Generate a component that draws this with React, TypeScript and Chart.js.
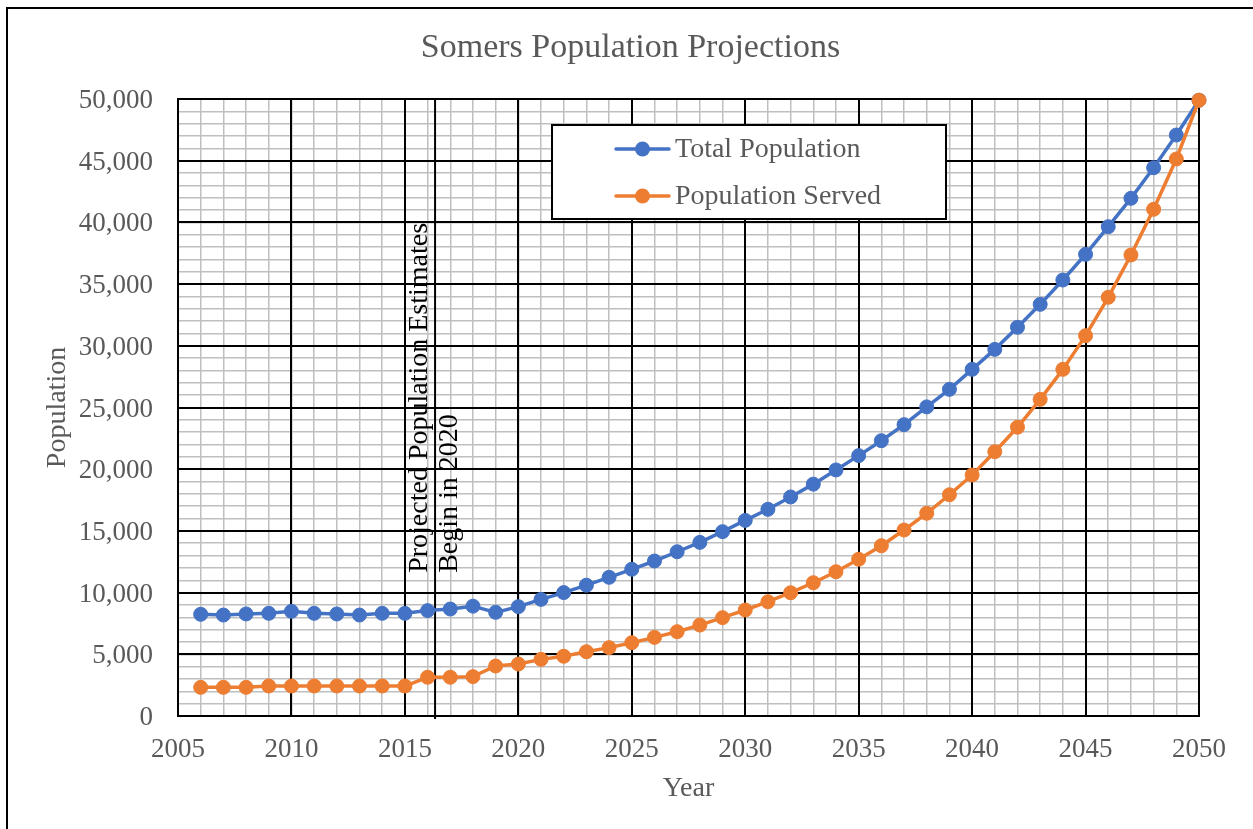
import React, { useEffect, useRef } from 'react';
import { Chart, registerables } from 'chart.js';

Chart.register(...registerables);

// ---- data ----
const YEARS = [
  2006, 2007, 2008, 2009, 2010, 2011, 2012, 2013, 2014, 2015,
  2016, 2017, 2018, 2019, 2020, 2021, 2022, 2023, 2024, 2025,
  2026, 2027, 2028, 2029, 2030, 2031, 2032, 2033, 2034, 2035,
  2036, 2037, 2038, 2039, 2040, 2041, 2042, 2043, 2044, 2045,
  2046, 2047, 2048, 2049, 2050,
];

const TOTAL_POPULATION = [
  8240, 8180, 8270, 8320, 8480, 8320, 8270, 8180, 8320, 8320,
  8540, 8670, 8900, 8400, 8860, 9450, 10000, 10600, 11240, 11890,
  12560, 13310, 14070, 14940, 15850, 16750, 17750, 18790, 19940, 21100,
  22310, 23610, 25050, 26470, 28090, 29710, 31500, 33360, 35330, 37410,
  39650, 41950, 44430, 47080, 49900,
];

const POPULATION_SERVED = [
  2320, 2320, 2320, 2430, 2430, 2430, 2430, 2430, 2430, 2430,
  3140, 3140, 3190, 4050, 4210, 4590, 4840, 5210, 5540, 5940,
  6370, 6830, 7370, 7970, 8590, 9260, 9990, 10800, 11690, 12700,
  13800, 15070, 16430, 17930, 19530, 21420, 23400, 25660, 28090, 30820,
  33930, 37360, 41060, 45140, 49900,
];

const SERIES_LABELS = ['Total Population', 'Population Served'];
const SERIES_COLORS = ['#4472C4', '#ED7D31'];

const X_MAJOR_TICKS = [2005, 2010, 2015, 2020, 2025, 2030, 2035, 2040, 2045, 2050];
const Y_MAJOR_TICKS = [0, 5000, 10000, 15000, 20000, 25000, 30000, 35000, 40000, 45000, 50000];
const Y_TICK_LABELS = ['0', '5,000', '10,000', '15,000', '20,000', '25,000', '30,000', '35,000', '40,000', '45,000', '50,000'];

const X_RANGE = [2005, 2050];
const Y_RANGE = [0, 50000];
const X_MINOR_STEP = 1;
const Y_MINOR_STEP = 1000;

// vertical marker where projections start, with its two-line note
const PROJECTION_MARK = 2016.33;
const NOTE_START_VALUE = 11600;
const NOTE_LINES = ['Projected Population Estimates', 'Begin in 2020'];

// ---- style ----
const FONT = '"Liberation Serif", "Times New Roman", serif';
const TEXT_GRAY = '#595959';
const MINOR_GRID = '#bfbfbf';

Chart.defaults.font.family = FONT;

const minorTicks = (min: number, max: number, step: number) => {
  const out: { value: number }[] = [];
  for (let v = min; v <= max + 1e-9; v += step) out.push({ value: v });
  return out;
};

const projectionMarker = {
  id: 'projectionMarker',
  beforeDatasetsDraw(chart: any) {
    const { ctx, chartArea, scales } = chart;
    const x = scales.x.getPixelForValue(PROJECTION_MARK);
    ctx.save();
    ctx.strokeStyle = '#000';
    ctx.lineWidth = 2;
    ctx.beginPath();
    ctx.moveTo(x, chartArea.top);
    ctx.lineTo(x, chartArea.bottom + 3);
    ctx.stroke();

    ctx.translate(x, scales.y.getPixelForValue(NOTE_START_VALUE));
    ctx.rotate(-Math.PI / 2);
    ctx.font = `28px ${FONT}`;
    ctx.fillStyle = '#000';
    ctx.textAlign = 'left';
    ctx.textBaseline = 'alphabetic';
    ctx.fillText(NOTE_LINES[0], 0, -8);
    ctx.fillText(NOTE_LINES[1], 0, 22);
    ctx.restore();
  },
};

const boxedLegend = {
  id: 'boxedLegend',
  afterDatasetsDraw(chart: any) {
    const { ctx, chartArea } = chart;
    const left = chartArea.left + 374;
    const top = chartArea.top + 26;
    const w = 394;
    const h = 94;
    ctx.save();
    ctx.fillStyle = '#fff';
    ctx.fillRect(left, top, w, h);
    ctx.strokeStyle = '#000';
    ctx.lineWidth = 2;
    ctx.strokeRect(left, top, w, h);
    SERIES_LABELS.forEach((label, i) => {
      const cy = top + 24 + i * 47;
      const color = SERIES_COLORS[i];
      ctx.strokeStyle = color;
      ctx.lineWidth = 3.5;
      ctx.lineCap = 'round';
      ctx.beginPath();
      ctx.moveTo(left + 64, cy);
      ctx.lineTo(left + 117, cy);
      ctx.stroke();
      ctx.fillStyle = color;
      ctx.beginPath();
      ctx.arc(left + 90.5, cy, 7.5, 0, Math.PI * 2);
      ctx.fill();
      ctx.fillStyle = TEXT_GRAY;
      ctx.font = `28px ${FONT}`;
      ctx.textAlign = 'left';
      ctx.textBaseline = 'middle';
      ctx.fillText(label, left + 123, cy + 1);
    });
    ctx.restore();
  },
};

const seriesData = [TOTAL_POPULATION, POPULATION_SERVED];

export default function App() {
  const canvasRef = useRef<HTMLCanvasElement>(null);

  useEffect(() => {
    const canvas = canvasRef.current;
    if (!canvas) return;
    const chart = new Chart(canvas, {
      type: 'line',
      data: {
        datasets: seriesData.map((values, i) => ({
          label: SERIES_LABELS[i],
          data: YEARS.map((year, j) => ({ x: year, y: values[j] })),
          borderColor: SERIES_COLORS[i],
          backgroundColor: SERIES_COLORS[i],
          pointBackgroundColor: SERIES_COLORS[i],
          pointBorderColor: SERIES_COLORS[i],
          borderWidth: 3.5,
          pointRadius: 7,
          pointBorderWidth: 1,
          tension: 0,
          clip: false as any,
          order: i === 0 ? 1 : 0,
          xAxisID: 'x',
          yAxisID: 'y',
        })),
      },
      plugins: [projectionMarker, boxedLegend],
      options: {
        responsive: false,
        animation: false,
        layout: { padding: 0 },
        plugins: {
          legend: { display: false },
          tooltip: { enabled: false },
          title: {
            display: true,
            text: 'Somers Population Projections',
            color: TEXT_GRAY,
            font: { family: FONT, size: 34, weight: 'normal' },
            padding: { top: 19, bottom: 30.2 },
          },
        },
        scales: {
          x: {
            type: 'linear',
            position: 'bottom',
            min: X_RANGE[0],
            max: X_RANGE[1],
            afterBuildTicks: (s: any) => {
              s.ticks = X_MAJOR_TICKS.map((value) => ({ value }));
            },
            ticks: {
              color: TEXT_GRAY,
              font: { size: 27 },
              padding: 18,
              maxRotation: 0,
              autoSkip: false,
              callback: (v: any) => String(v),
            },
            grid: { color: '#000', lineWidth: 2, drawTicks: false },
            border: { color: '#000', width: 2 },
            title: {
              display: true,
              text: 'Year',
              color: TEXT_GRAY,
              font: { size: 28 },
              padding: { top: 0, bottom: 23.7 },
            },
            afterFit: (s: any) => {
              s.height = 113;
            },
          },
          xMinor: {
            type: 'linear',
            position: 'bottom',
            min: X_RANGE[0],
            max: X_RANGE[1],
            afterBuildTicks: (s: any) => {
              s.ticks = minorTicks(X_RANGE[0], X_RANGE[1], X_MINOR_STEP);
            },
            ticks: { display: false },
            grid: { color: MINOR_GRID, lineWidth: 1.5, drawTicks: false, z: -2 },
            border: { display: false },
            afterFit: (s: any) => {
              s.height = 0;
            },
          },
          y: {
            type: 'linear',
            position: 'left',
            min: Y_RANGE[0],
            max: Y_RANGE[1],
            afterBuildTicks: (s: any) => {
              s.ticks = Y_MAJOR_TICKS.map((value) => ({ value }));
            },
            ticks: {
              color: TEXT_GRAY,
              font: { size: 27 },
              padding: 25,
              labelOffset: 2,
              autoSkip: false,
              callback: (_v: any, i: number) => Y_TICK_LABELS[i],
            },
            grid: { color: '#000', lineWidth: 2, drawTicks: false },
            border: { color: '#000', width: 2 },
            title: {
              display: true,
              text: 'Population',
              color: TEXT_GRAY,
              font: { size: 28 },
              padding: { top: 33, bottom: 0 },
            },
            afterFit: (s: any) => {
              s.width = 170;
            },
          },
          yMinor: {
            type: 'linear',
            position: 'right',
            min: Y_RANGE[0],
            max: Y_RANGE[1],
            afterBuildTicks: (s: any) => {
              s.ticks = minorTicks(Y_RANGE[0], Y_RANGE[1], Y_MINOR_STEP);
            },
            ticks: { display: false },
            grid: { color: MINOR_GRID, lineWidth: 1.5, drawTicks: false, z: -2 },
            border: { display: false },
            afterFit: (s: any) => {
              s.width = 54;
            },
          },
        },
      } as any,
    });
    return () => chart.destroy();
  }, []);

  return (
    <div
      style={{
        position: 'fixed',
        left: 6,
        top: 7,
        width: 1247,
        height: 822,
        borderLeft: '2px solid #000',
        borderTop: '2px solid #000',
        background: '#fff',
      }}
    >
      <canvas ref={canvasRef} width={1245} height={820} style={{ display: 'block' }} />
    </div>
  );
}
